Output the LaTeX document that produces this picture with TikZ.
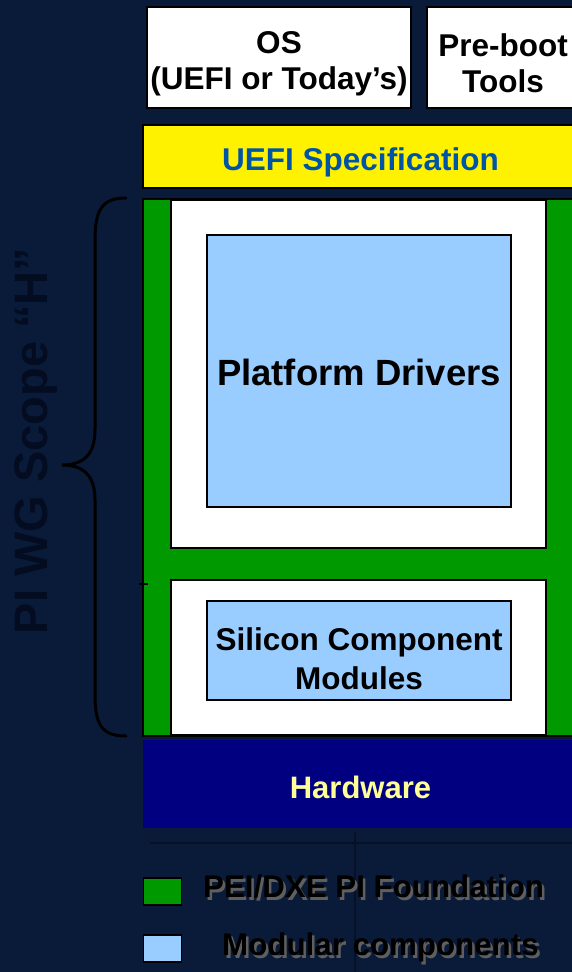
\documentclass[tikz,border=0pt]{standalone}
\usepackage{fontspec}
\setmainfont{Liberation Sans}
\definecolor{bgnavy}{RGB}{10,27,58}
\definecolor{fgreen}{RGB}{0,153,0}
\definecolor{lblue}{RGB}{153,204,255}
\definecolor{hwnavy}{RGB}{0,0,128}
\definecolor{hwtext}{RGB}{255,255,153}
\definecolor{spectext}{RGB}{0,84,166}
\definecolor{scopetext}{RGB}{3,12,32}
\definecolor{shadowgray}{RGB}{95,95,95}
\definecolor{bgline}{RGB}{6,17,40}
\newcommand{\shadowtext}[1]{\rlap{\hspace{2.5pt}\raisebox{-2.5pt}{\color{shadowgray}#1}}#1}
\tikzset{
  x=1pt, y=-1pt,
  blockbox/.style={draw=black, line width=1.6pt, inner sep=0pt},
  lbl/.style={inner sep=0pt, align=center, font=\fontsize{31.5}{36}\selectfont\bfseries},
  legendtext/.style={inner sep=0pt, anchor=west, text=black, font=\fontsize{31.3}{34}\selectfont\bfseries},
}
\begin{document}
\begin{tikzpicture}
\useasboundingbox (0,0) rectangle (572,972);
\fill[bgnavy] (0,0) rectangle (572,972);
% faint background texture
\draw[bgline, line width=2.5pt] (355,832) -- (355,972);
\draw[bgline, line width=2pt] (150,843) -- (572,843);

% top boxes
\node[blockbox, fill=white, minimum width=264pt, minimum height=101pt] (os) at (279,57.5) {};
\node[lbl] (ostext) at ([shift={(0,6)}]os.center) {OS\\(UEFI or Today’s)};
\node[blockbox, fill=white, minimum width=152pt, minimum height=101pt] (preboot) at (503,57.5) {};
\node[lbl] (pretext) at ([shift={(0,6)}]preboot.center) {Pre-boot\\Tools};

% UEFI spec
\node[blockbox, fill=yellow, minimum width=435pt, minimum height=63pt] (uefi) at (360.5,156.5) {};
\node[lbl, text=spectext] (uefitext) at ([shift={(0,6)}]uefi.center) {UEFI Specification};

% green foundation
\node[blockbox, fill=fgreen, minimum width=435pt, minimum height=537pt] (found) at (360.5,467.5) {};

% white boxes
\node[draw=black, line width=1.2pt, fill=white, minimum width=375pt, minimum height=348pt, inner sep=0pt] (wtop) at (358.5,374) {};
\node[draw=black, line width=1.2pt, fill=white, minimum width=375pt, minimum height=155pt, inner sep=0pt] (wbot) at (358.5,657.5) {};

% light blue modules
\node[blockbox, fill=lblue, minimum width=304pt, minimum height=272pt] (plat) at (359,371) {};
\node[lbl, font=\fontsize{36.5}{40}\selectfont\bfseries] (plattext) at ([shift={(0,1)}]plat.center) {Platform Drivers};
\node[blockbox, fill=lblue, minimum width=304pt, minimum height=99pt] (sil) at (359,650.5) {};
\node[lbl, font=\fontsize{31.5}{39}\selectfont\bfseries] (siltext) at ([shift={(0,8)}]sil.center) {Silicon Component\\Modules};

% small tick
\draw[black, line width=1.5pt] (139,584) -- (148,584);

% hardware
\node[fill=hwnavy, minimum width=435pt, minimum height=88pt, inner sep=0pt] (hw) at (360.5,784) {};
\node[lbl, text=hwtext, font=\fontsize{31}{34}\selectfont\bfseries] (hwtext) at ([shift={(0,3)}]hw.center) {Hardware};

% brace
\draw[black, line width=3pt, line cap=round]
  (126,198) .. controls (102,198) and (95,210) .. (95,240) -- (95,430)
  .. controls (95,455) and (83,465) .. (62,465)
  .. controls (83,465) and (95,475) .. (95,500) -- (95,695)
  .. controls (95,725) and (102,736) .. (126,736);

% scope label
\node[rotate=90, text=scopetext, inner sep=0pt, font=\fontsize{47}{50}\selectfont\bfseries] (scope) at (36,441) {PI WG Scope “H”};

% legend
\node[draw=black, line width=1.6pt, fill=fgreen, minimum width=38pt, minimum height=27pt, inner sep=0pt] (lg1) at (162.5,891.5) {};
\node[draw=black, line width=1.6pt, fill=lblue, minimum width=38pt, minimum height=27pt, inner sep=0pt] (lg2) at (162.5,948.5) {};
\node[legendtext] (lt1) at (203,888) {\shadowtext{PEI/DXE PI Foundation}};
\node[legendtext] (lt2) at (222,949) {\shadowtext{Modular components}};
\end{tikzpicture}
\end{document}
